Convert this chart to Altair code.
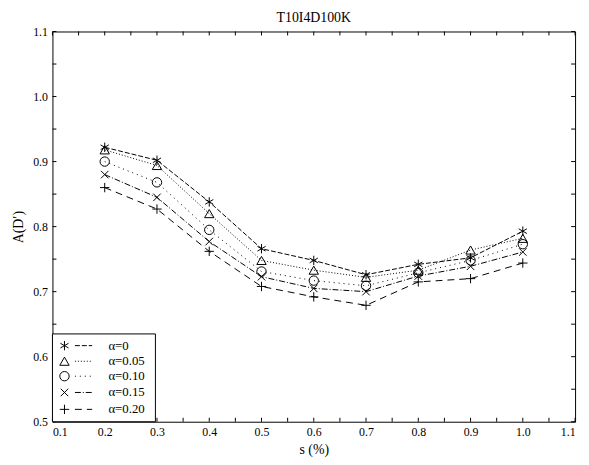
import altair as alt
import pandas as pd

chart_title = "T10I4D100K"
s_vals = [0.2, 0.3, 0.4, 0.5, 0.6, 0.7, 0.8, 0.9, 1.0]
labels = ["α=0", "α=0.05", "α=0.10", "α=0.15", "α=0.20"]
a000 = [0.922, 0.902, 0.838, 0.766, 0.748, 0.726, 0.742, 0.752, 0.793]
a005 = [0.918, 0.894, 0.820, 0.748, 0.733, 0.722, 0.733, 0.764, 0.782]
a010 = [0.900, 0.868, 0.795, 0.731, 0.717, 0.709, 0.729, 0.748, 0.773]
a015 = [0.880, 0.845, 0.777, 0.723, 0.705, 0.700, 0.724, 0.739, 0.761]
a020 = [0.860, 0.827, 0.762, 0.708, 0.692, 0.679, 0.715, 0.720, 0.744]
series = [a000, a005, a010, a015, a020]

major_ticks = [0.1, 0.2, 0.3, 0.4, 0.5, 0.6, 0.7, 0.8, 0.9, 1.0, 1.1]
minor_x = [0.15, 0.25, 0.35, 0.45, 0.55, 0.65, 0.75, 0.85, 0.95, 1.05]
y_ticks = [0.5, 0.6, 0.7, 0.8, 0.9, 1.0, 1.1]
minor_y = [0.55, 0.65, 0.75, 0.85, 0.95, 1.05]

# legend layout (data units)
leg_rows = [0.617, 0.593, 0.570, 0.545, 0.519]

shapes = [
    "M0,-1L0,1M-0.87,-0.5L0.87,0.5M-0.87,0.5L0.87,-0.5",
    "triangle-up",
    "circle",
    "M-0.8,-0.8L0.8,0.8M-0.8,0.8L0.8,-0.8",
    "M-1,0L1,0M0,-1L0,1",
]
dashes = [[5, 2], [1, 2], [1, 4], [6, 2, 1, 2], [7, 5]]

rows = []
for lab, vals in zip(labels, series):
    for s, v in zip(s_vals, vals):
        rows.append({"s": s, "v": v, "alpha": lab})
df = pd.DataFrame(rows)
leg = pd.DataFrame({"alpha": labels, "y": leg_rows})

FONT = "Liberation Serif"
W, H = 529, 395
xs = alt.Scale(domain=[0.1, 1.1], nice=False, zero=False)
ys = alt.Scale(domain=[0.5, 1.1], nice=False, zero=False)
shape_scale = alt.Scale(domain=labels, range=shapes)
dash_scale = alt.Scale(domain=labels, range=dashes)

axis_style = dict(labelFont=FONT, labelFontSize=12, labelColor="black",
                  titleFont=FONT, titleFontSize=14, titleFontWeight="normal", titleColor="black",
                  ticks=False, domain=False, grid=False, format=".1f")

X = alt.X("s:Q", scale=xs, title="s (%)",
          axis=alt.Axis(values=major_ticks, labelPadding=5, titlePadding=5, **axis_style))
Y = alt.Y("v:Q", scale=ys, title="A(D′)",
          axis=alt.Axis(values=y_ticks, labelPadding=5, titlePadding=7, **axis_style))

lines = alt.Chart(df).mark_line(color="black", strokeWidth=1).encode(
    x=X, y=Y,
    strokeDash=alt.StrokeDash("alpha:N", scale=dash_scale, legend=None),
    detail="alpha:N",
)
points = alt.Chart(df).mark_point(filled=False, color="black", size=90, strokeWidth=1, opacity=1).encode(
    x=alt.X("s:Q", scale=xs), y=alt.Y("v:Q", scale=ys),
    shape=alt.Shape("alpha:N", scale=shape_scale, legend=None),
)

def tick_layer(vals, field, pos1, pos2, vertical):
    d = pd.DataFrame({field: vals})
    if vertical:
        return alt.Chart(d).mark_rule(color="black", strokeWidth=1).encode(
            x=alt.X(f"{field}:Q", scale=xs), y=alt.value(pos1), y2=alt.value(pos2))
    return alt.Chart(d).mark_rule(color="black", strokeWidth=1).encode(
        y=alt.Y(f"{field}:Q", scale=ys), x=alt.value(pos1), x2=alt.value(pos2))

ticks = [
    tick_layer(major_ticks + minor_x, "s", H, H - 4, True),
    tick_layer(major_ticks + minor_x, "s", 0, 4, True),
    tick_layer(y_ticks + minor_y, "v", 0, 4, False),
    tick_layer(y_ticks + minor_y, "v", W, W - 4, False),
]

box_df = pd.DataFrame({"x1": [0.1], "x2": [0.297], "y1": [0.5], "y2": [0.635]})
box = alt.Chart(box_df).mark_rect(fill="white", stroke="black", strokeWidth=1).encode(
    x=alt.X("x1:Q", scale=xs), x2="x2:Q", y=alt.Y("y1:Q", scale=ys), y2="y2:Q")

leg_pts = alt.Chart(leg).mark_point(filled=False, color="black", size=90, strokeWidth=1, opacity=1).encode(
    x=alt.value((0.123 - 0.1) * W), y=alt.Y("y:Q", scale=ys),
    shape=alt.Shape("alpha:N", scale=shape_scale, legend=None))
leg_lines = alt.Chart(leg).mark_rule(color="black", strokeWidth=1).encode(
    x=alt.value((0.143 - 0.1) * W), x2=alt.value((0.176 - 0.1) * W), y=alt.Y("y:Q", scale=ys),
    strokeDash=alt.StrokeDash("alpha:N", scale=dash_scale, legend=None))
leg_text = alt.Chart(leg).mark_text(align="left", baseline="middle", font=FONT, fontSize=13, color="black").encode(
    x=alt.value((0.207 - 0.1) * W), y=alt.Y("y:Q", scale=ys), text="alpha:N")

title_df = pd.DataFrame({"t": [chart_title]})
title = alt.Chart(title_df).mark_text(font=FONT, fontSize=14, color="black", baseline="middle", align="center").encode(
    x=alt.value(W / 2), y=alt.value(-14), text="t:N")

chart = alt.layer(lines, points, *ticks, box, leg_pts, leg_lines, leg_text, title).properties(
    width=W, height=H,
    background="white",
    autosize=alt.AutoSizeParams(type="none"),
    padding={"left": 45, "top": 21, "right": 6, "bottom": 40},
).configure_view(stroke="black", strokeWidth=1)

chart.save("out.html", embed_options={"renderer": "svg", "actions": False})
